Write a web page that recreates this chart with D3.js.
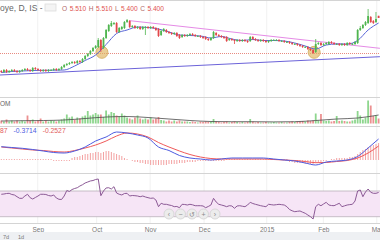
<!DOCTYPE html>
<html>
<head>
<meta charset="utf-8">
<script src="https://cdn.jsdelivr.net/npm/d3@7/dist/d3.min.js"></script>
<style>
html, body { margin: 0; padding: 0; background: #fff; }
svg { display: block; font-family: "Liberation Sans", Arial, sans-serif; }
</style>
</head>
<body>
<svg id="chart" width="380" height="240"></svg>
<script>
// daily candles
var openP = [2.75,2.70,2.80,2.70,2.75,2.80,2.75,2.70,2.75,2.80,
  2.85,2.80,2.75,2.90,2.85,2.80,2.75,2.80,2.75,2.80,
  2.80,2.85,2.80,2.85,2.95,3.05,3.10,3.15,3.20,3.15,
  3.25,3.20,3.35,3.50,3.60,3.75,3.90,3.95,4.30,3.90,
  4.40,4.75,5.00,5.10,5.15,4.70,4.85,4.90,5.20,5.25,
  4.95,5.00,4.90,4.95,4.85,4.95,4.95,4.90,4.95,4.90,
  4.85,4.55,4.75,4.80,4.70,4.65,4.60,4.65,4.55,4.45,
  4.55,4.50,4.55,4.60,4.55,4.50,4.50,4.45,4.45,4.35,
  4.30,4.40,4.65,4.55,4.50,4.45,4.45,4.30,4.35,4.30,
  4.25,4.30,4.25,4.30,4.25,4.25,4.45,4.35,4.30,4.25,
  4.30,4.25,4.20,4.25,4.30,4.30,4.30,4.25,4.25,4.20,
  4.20,4.15,4.10,4.10,4.05,4.00,3.95,3.95,3.85,3.80,
  3.70,4.10,4.15,4.05,4.10,4.10,4.20,4.15,4.10,4.10,
  4.05,4.10,4.05,4.15,4.10,4.10,4.15,4.80,4.90,5.05,
  5.15,5.45,5.25,5.20,5.51];
var highP = [2.80,2.85,2.85,2.80,2.85,2.85,2.80,2.80,2.85,2.90,
  2.90,2.85,2.95,2.95,2.90,2.85,2.85,2.85,2.85,2.85,
  2.90,2.90,2.90,3.00,3.10,3.15,3.20,3.25,3.25,3.30,
  3.30,3.40,3.55,3.65,3.80,3.95,4.05,4.40,4.35,4.45,
  4.85,5.10,5.25,5.20,5.20,4.95,5.00,5.25,5.35,5.30,
  5.05,5.05,5.00,5.00,5.00,5.00,5.00,5.00,5.00,4.95,
  4.90,4.80,4.90,4.85,4.75,4.70,4.70,4.70,4.60,4.60,
  4.60,4.60,4.65,4.65,4.60,4.55,4.55,4.50,4.50,4.40,
  4.45,4.75,4.70,4.60,4.55,4.50,4.50,4.40,4.40,4.35,
  4.35,4.35,4.35,4.35,4.30,4.50,4.50,4.40,4.35,4.35,
  4.35,4.30,4.30,4.35,4.35,4.35,4.35,4.30,4.30,4.25,
  4.25,4.20,4.15,4.15,4.10,4.05,4.00,4.00,3.90,3.85,
  4.35,4.20,4.20,4.15,4.20,4.25,4.25,4.20,4.15,4.15,
  4.15,4.15,4.20,4.20,4.15,4.25,4.85,5.00,5.10,5.25,
  5.85,5.50,5.30,5.70,5.51];
var lowP = [2.65,2.65,2.65,2.65,2.70,2.70,2.65,2.65,2.70,2.75,
  2.75,2.70,2.70,2.80,2.75,2.70,2.70,2.70,2.70,2.75,
  2.75,2.75,2.75,2.80,2.90,3.00,3.05,3.10,3.10,3.10,
  3.15,3.15,3.30,3.45,3.55,3.70,3.85,3.90,3.70,3.85,
  4.35,4.70,4.95,5.05,4.65,4.65,4.80,4.85,5.15,4.90,
  4.90,4.85,4.85,4.80,4.80,4.55,4.85,4.85,4.85,4.75,
  4.45,4.50,4.70,4.65,4.60,4.55,4.55,4.45,4.35,4.40,
  4.45,4.45,4.50,4.50,4.45,4.45,4.40,4.35,4.30,4.25,
  4.25,4.35,4.50,4.45,4.40,4.35,4.20,4.25,4.25,4.10,
  4.20,4.20,4.20,4.20,4.15,4.20,4.30,4.25,4.20,4.20,
  4.20,4.15,4.15,4.20,4.25,4.25,4.20,4.20,4.15,4.15,
  4.10,4.05,4.05,4.00,3.95,3.90,3.90,3.80,3.75,3.60,
  3.65,4.05,4.00,4.00,4.05,4.05,4.10,4.05,4.05,4.00,
  4.00,4.00,4.00,4.05,4.05,4.05,4.10,4.75,4.85,5.00,
  5.10,5.15,5.10,5.15,5.40];
var closeP = [2.70,2.80,2.70,2.75,2.80,2.75,2.70,2.75,2.80,2.85,
  2.80,2.75,2.90,2.85,2.80,2.75,2.80,2.75,2.80,2.80,
  2.85,2.80,2.85,2.95,3.05,3.10,3.15,3.20,3.15,3.25,
  3.20,3.35,3.50,3.60,3.75,3.90,4.00,4.30,3.80,4.40,
  4.80,5.05,5.15,5.15,4.70,4.90,4.95,5.20,5.30,4.95,
  5.00,4.90,4.95,4.85,4.95,4.95,4.90,4.95,4.90,4.80,
  4.50,4.75,4.85,4.70,4.65,4.60,4.65,4.50,4.40,4.55,
  4.50,4.55,4.60,4.55,4.50,4.50,4.45,4.40,4.35,4.30,
  4.40,4.70,4.55,4.50,4.45,4.40,4.25,4.35,4.30,4.25,
  4.30,4.25,4.30,4.25,4.20,4.45,4.35,4.30,4.25,4.30,
  4.25,4.20,4.25,4.30,4.30,4.30,4.25,4.25,4.20,4.20,
  4.15,4.10,4.10,4.05,4.00,3.95,3.95,3.85,3.80,3.65,
  4.10,4.15,4.05,4.10,4.15,4.20,4.15,4.10,4.10,4.05,
  4.10,4.05,4.15,4.10,4.10,4.20,4.80,4.90,5.05,5.20,
  5.50,5.20,5.15,5.35,5.40];
var volume = [3,2,4,2,3,2,3,2,3,2,
  8,3,4,2,3,5,2,3,2,3,
  3,2,3,4,5,9,6,7,4,6,
  5,7,8,12.5,8,9,10.5,9,9,6.5,
  13,9,11.5,10.5,8,7,10,8,6,5,
  4,6,8,5,4,5,4,6,4,5,
  6.5,3.5,3,2,3,2,3,2,3,2,
  2,2,1.5,2,1.5,1,2,1.5,2,1.5,
  2,4.5,2,1.5,1,1.5,2,1,1.5,2,
  1.5,1,1.5,1,1.5,4.5,2,1,1.5,1,
  1,1.5,1,1,1.5,1,1,1.5,1,1,
  1.5,2,1.5,2,2,2.5,2,3,2.5,3,
  10,3,9.5,3,2.5,3,2,2.5,7.5,2.5,
  3,2.5,2,2,3,4,12.5,8,4,6,
  23,18,7.5,8,5];

// overlays read every 4th session
var priceMA = [2.675,2.725,2.75,2.775,2.785,2.79,2.80,3.00,3.275,3.55,
  4.075,4.625,4.80,4.95,4.925,4.85,4.70,4.55,4.525,4.50,
  4.40,4.475,4.35,4.275,4.325,4.275,4.275,4.25,4.15,4.00,
  3.85,4.05,4.10,4.10,4.275,4.80,5.15];
var macdLine = [0.133,0.125,0.117,0.105,0.09,0.075,0.07,0.09,0.13,0.19,
  0.23,0.28,0.27,0.25,0.22,0.13,0.095,0.045,0.02,0.01,
  0,0.01,0.02,0.02,0.02,0.02,0.01,0,-0.01,-0.03,
  -0.05,-0.02,-0.01,0,0.035,0.12,0.21];
var signalLine = [0.13,0.12,0.11,0.10,0.095,0.085,0.08,0.095,0.12,0.15,
  0.19,0.24,0.27,0.26,0.23,0.175,0.13,0.09,0.055,0.03,
  0.015,0.01,0.01,0.01,0.01,0.01,0.005,0,-0.005,-0.015,
  -0.027,-0.025,-0.015,-0.005,0.02,0.07,0.14];
// volume average read every 8th session
var volMA = [2.5,2.8,3,3.5,5,6.5,7,6,4.5,3,2,1.8,1.8,1.6,1.8,3,4.5,5.5,8.5];

var macdHist = [0.01,0.01,0.01,0.01,0.01,0.01,0.01,0.01,0.01,0.01,
  0.01,0.01,0.01,0.01,0.01,0.01,0.01,0.01,0.01,0.01,
  -0.01,-0.01,-0.01,-0.01,-0.01,-0.01,-0.01,0.02,0.03,0.03,
  0.04,0.05,0.06,0.06,0.07,0.07,0.08,0.08,0.07,0.08,
  0.09,0.09,0.08,0.07,0.06,0.05,0.04,0.02,0.01,0,
  -0.01,-0.02,-0.02,-0.03,-0.03,-0.04,-0.04,-0.05,-0.05,-0.05,
  -0.05,-0.05,-0.05,-0.05,-0.04,-0.04,-0.04,-0.04,-0.03,-0.03,
  -0.03,-0.02,-0.02,-0.02,-0.02,-0.01,-0.01,-0.01,-0.01,-0.01,
  -0.01,-0.01,-0.01,-0.01,-0.01,-0.01,0.01,0.01,0.01,0.01,
  0.01,0.01,0.01,0.01,0.01,0.01,0.01,0.01,0.01,0.01,
  0.01,0.01,0.01,0.01,0.01,0.01,0.01,0.01,0.01,0.01,
  -0.02,-0.02,-0.03,-0.03,-0.03,-0.03,-0.04,-0.04,-0.04,-0.04,
  -0.03,-0.02,-0.02,-0.01,-0.01,0,0.01,0.01,0.02,0.02,
  0.02,0.02,0.02,0.03,0.03,0.04,0.06,0.08,0.10,0.11,
  0.13,0.14,0.15,0.16,0.17];
var rsi = [64.9,65.3,66.1,66.4,64.6,63.8,61.1,58.6,58.6,62.2,
  64.9,59.6,57.5,59.9,62.2,64.9,64.9,64.6,63.0,62.2,
  63.8,59.1,57.1,56.8,62.2,70.8,69.2,72.3,73.9,75.1,
  77.8,79.8,82.5,84.0,85.6,86.3,87.9,88.7,62.7,70.0,
  74.7,75.1,73.1,76.7,66.9,64.9,63.8,66.1,66.4,62.2,
  63.0,62.7,62.2,61.1,62.2,60.7,59.6,58.6,59.1,56.0,
  45.6,50.9,49.3,49.3,48.2,47.4,45.6,45.9,44.0,49.3,
  49.0,48.2,49.3,48.5,47.1,47.1,47.1,46.7,44.0,45.9,
  48.2,58.6,52.9,49.3,48.2,47.1,45.6,47.1,46.7,43.1,
  46.7,47.1,46.3,45.6,48.2,52.4,50.5,49.3,48.2,47.1,
  46.3,45.6,49.3,48.7,48.2,48.7,49.3,48.7,48.2,45.6,
  41.2,39.2,37.8,38.4,38.9,37.0,35.3,32.6,30.0,26.4,
  45.6,49.3,47.1,49.8,52.4,48.2,47.4,47.1,49.0,50.9,
  45.6,46.9,48.2,48.8,49.3,54.4,70.0,71.6,61.1,68.4,
  73.1,68.0,66.4,66.4,67.7];

var monthIdx = [13.9, 36.4, 56.8, 77.4, 101.3, 122.9, 143.3];
var monthLabels = ["Sep", "Oct", "Nov", "Dec", "2015", "Feb", "Mar"];

// drawings on the price pane: [session, price]
var resistLine = [[49.1, 5.265], [144.5, 3.885]];
var supportLine = [[-0.5, 2.55], [144.5, 3.465]];
var levelPrice = 3.625;
var markers = [[38.4, 3.685], [119.4, 3.685]];
var rsiBands = [30, 70];

var lastBar = ["O", "5.510", "H", "5.510", "L", "5.400", "C", "5.400"];
var macdLegend = ["87", "-0.3714", "-0.2527"];

var upC = "#4fb54f", downC = "#e2474b";
var svg = d3.select("#chart");
var idx = d3.range(closeP.length);
var step4 = d3.range(0, closeP.length, 4);
var step8 = d3.range(0, closeP.length, 8);

var x = d3.scaleLinear().domain([0, 144]).range([1.3, 378.6]);
var yP = d3.scaleLinear().domain([1.45, 6.30]).range([97, 0]);
var yV = d3.scaleLinear().domain([0, 25]).range([123.5, 98.5]);
var yM = d3.scaleLinear().domain([-0.12, 0.32]).range([172, 128]);
var yR = d3.scaleLinear().domain([30, 70]).range([216.7, 191]);

function clip(id, y0, y1) {
  svg.append("clipPath").attr("id", id).append("rect")
    .attr("x", 0).attr("y", y0).attr("width", 380).attr("height", y1 - y0);
}
clip("cMain", 0, 97);
clip("cVol", 98, 126);
clip("cMacd", 127, 173);
clip("cRsi", 174, 223);

// month grid
svg.append("g").selectAll("line").data(monthIdx).enter().append("line")
  .attr("x1", d => x(d)).attr("x2", d => x(d))
  .attr("y1", 0).attr("y2", 223)
  .attr("stroke", "#f1f1f1").attr("stroke-width", 1);

// pane separators
svg.append("g").selectAll("line").data([0.5, 97.5, 126.5, 173.5, 223.5]).enter().append("line")
  .attr("x1", 0).attr("x2", 380).attr("y1", d => d).attr("y2", d => d)
  .attr("stroke", "#d4d4d4").attr("stroke-width", 1);

// ---- price pane
var main = svg.append("g").attr("clip-path", "url(#cMain)");

main.append("line")
  .attr("x1", 0).attr("x2", 380).attr("y1", yP(levelPrice)).attr("y2", yP(levelPrice))
  .attr("stroke", "#e88a80").attr("stroke-width", 1).attr("stroke-dasharray", "1,1");

main.selectAll("circle.mark").data(markers).enter().append("circle")
  .attr("cx", d => x(d[0])).attr("cy", d => yP(d[1])).attr("r", 6)
  .attr("fill", "rgba(222,178,92,0.65)").attr("stroke", "#d9b66e").attr("stroke-width", 1);

main.append("path").datum(supportLine)
  .attr("d", d3.line().x(d => x(d[0])).y(d => yP(d[1])))
  .attr("fill", "none").attr("stroke", "#6c63d9").attr("stroke-width", 1);
main.append("path").datum(resistLine)
  .attr("d", d3.line().x(d => x(d[0])).y(d => yP(d[1])))
  .attr("fill", "none").attr("stroke", "#e58be6").attr("stroke-width", 1);

main.append("path").datum(priceMA)
  .attr("d", d3.line().x((d, k) => x(step4[k])).y(d => yP(d)).curve(d3.curveMonotoneX))
  .attr("fill", "none").attr("stroke", "#5a67d8").attr("stroke-width", 1);

function isUp(i) { return closeP[i] >= openP[i]; }
main.selectAll("line.wick").data(idx).enter().append("line")
  .attr("x1", i => x(i)).attr("x2", i => x(i))
  .attr("y1", i => yP(highP[i])).attr("y2", i => yP(lowP[i]))
  .attr("stroke", i => isUp(i) ? upC : downC).attr("stroke-width", 0.8);
main.selectAll("rect.body").data(idx).enter().append("rect")
  .attr("x", i => x(i) - 0.9).attr("width", 1.8)
  .attr("y", i => yP(Math.max(openP[i], closeP[i])))
  .attr("height", i => Math.max(0.8, Math.abs(yP(openP[i]) - yP(closeP[i]))))
  .attr("fill", i => isUp(i) ? upC : downC);

// header
var head = svg.append("text").attr("x", 0).attr("y", 11).attr("font-size", 8.5);
head.append("tspan").attr("fill", "#666").text("oye, D, IS -");
svg.append("rect").attr("x", 45).attr("y", 4).attr("width", 11).attr("height", 7)
  .attr("fill", "#f4f4f4").attr("stroke", "#ddd").attr("stroke-width", 0.8);
var ohlc = svg.append("text").attr("x", 62).attr("y", 10.5).attr("font-size", 6.6);
lastBar.forEach(function(t, k) {
  ohlc.append("tspan").attr("fill", k % 2 ? "#e0534f" : "#b06a6a")
    .attr("dx", k ? 2.5 : 0).text(t);
});

// ---- volume pane
var vol = svg.append("g").attr("clip-path", "url(#cVol)");
vol.selectAll("rect").data(idx).enter().append("rect")
  .attr("x", i => x(i) - 0.9).attr("width", 1.8)
  .attr("y", i => yV(volume[i])).attr("height", i => yV(0) - yV(volume[i]))
  .attr("fill", i => isUp(i) ? "#8ed68e" : "#ec9191");
vol.append("path").datum(volMA)
  .attr("d", d3.line().x((d, k) => x(step8[k])).y(d => yV(d)).curve(d3.curveMonotoneX))
  .attr("fill", "none").attr("stroke", "#4a4a4a").attr("stroke-width", 0.8);
svg.append("text").attr("x", 0).attr("y", 106).attr("font-size", 6.5)
  .attr("fill", "#666").text("OM");

// ---- MACD pane
var macd = svg.append("g").attr("clip-path", "url(#cMacd)");
macd.selectAll("line").data(idx).enter().append("line")
  .attr("x1", i => x(i)).attr("x2", i => x(i))
  .attr("y1", yM(0)).attr("y2", i => yM(macdHist[i]))
  .attr("stroke", "#f08a8a").attr("stroke-width", 0.8);
macd.append("path").datum(signalLine)
  .attr("d", d3.line().x((d, k) => x(step4[k])).y(d => yM(d)).curve(d3.curveMonotoneX))
  .attr("fill", "none").attr("stroke", "#ef5a5a").attr("stroke-width", 1);
macd.append("path").datum(macdLine)
  .attr("d", d3.line().x((d, k) => x(step4[k])).y(d => yM(d)).curve(d3.curveMonotoneX))
  .attr("fill", "none").attr("stroke", "#4d5be0").attr("stroke-width", 1);
var ml = svg.append("text").attr("x", 0).attr("y", 133).attr("font-size", 6.8);
var legendCols = ["#e25a5a", "#4d5be0", "#e25a5a"];
macdLegend.forEach(function(t, k) {
  ml.append("tspan").attr("fill", legendCols[k]).attr("dx", k ? 6 : 0).text(t);
});

// ---- RSI pane
var rs = svg.append("g").attr("clip-path", "url(#cRsi)");
rs.append("rect").attr("x", 0).attr("width", 380)
  .attr("y", yR(rsiBands[1])).attr("height", yR(rsiBands[0]) - yR(rsiBands[1]))
  .attr("fill", "#f6e5f6");
rs.selectAll("line.band").data(rsiBands).enter().append("line")
  .attr("x1", 0).attr("x2", 380).attr("y1", d => yR(d)).attr("y2", d => yR(d))
  .attr("stroke", "#b9b0b9").attr("stroke-width", 0.8);
rs.append("path").datum(rsi)
  .attr("d", d3.line().x((d, k) => x(k)).y(d => yR(d)))
  .attr("fill", "none").attr("stroke", "#8c5a96").attr("stroke-width", 1);

// zoom buttons
var btnLabels = ["\u2039", "\u2212", "\u21BA", "+", "\u203A"];
var btns = svg.append("g").selectAll("g").data(btnLabels).enter().append("g")
  .attr("transform", (d, k) => "translate(" + (169 + k * 11.5) + ",214)");
btns.append("circle").attr("r", 5).attr("fill", "#ececec").attr("stroke", "#d8d8d8");
btns.append("text").attr("text-anchor", "middle").attr("y", 2.5).attr("font-size", 7)
  .attr("fill", "#888").text(d => d);

// time axis
var axis = svg.append("g").attr("transform", "translate(0,224)")
  .call(d3.axisBottom(x).tickValues(monthIdx).tickFormat((d, k) => monthLabels[k]).tickSize(0).tickPadding(3));
axis.select(".domain").remove();
axis.selectAll("text").attr("font-size", 6.5).attr("fill", "#777")
  .attr("font-family", "Liberation Sans, Arial, sans-serif");

// bottom toolbar
svg.append("rect").attr("x", 0).attr("y", 232).attr("width", 380).attr("height", 8).attr("fill", "#eef0f3");
svg.append("g").selectAll("text").data(["7d", "1d"]).enter().append("text")
  .attr("x", (d, k) => 3 + k * 15).attr("y", 238.5).attr("font-size", 5.5)
  .attr("fill", "#777").text(d => d);
</script>
</body>
</html>
